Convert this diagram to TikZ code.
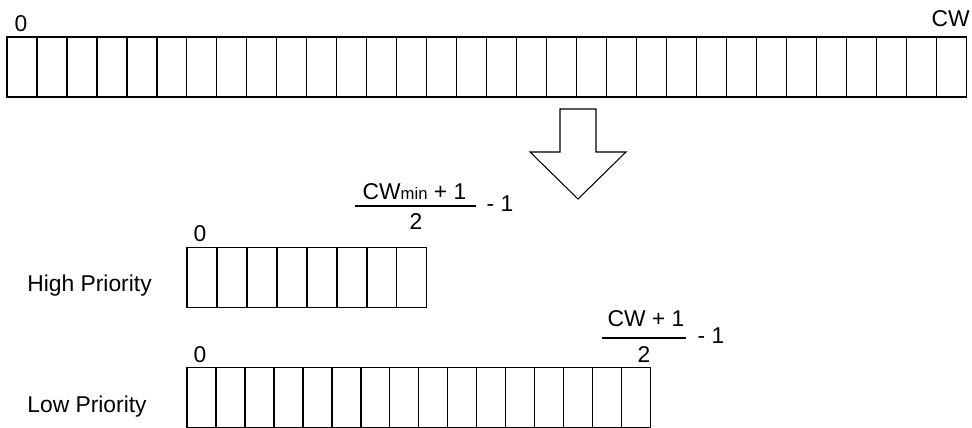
\documentclass[tikz,border=0pt]{standalone}
\usepackage{fontspec}
\setmainfont{Liberation Sans}
\usetikzlibrary{positioning}

\begin{document}
\begin{tikzpicture}[x = 0.02cm, y = -0.02cm, node distance = 0.6cm, on grid,
	slot/.style = {draw, semithick, rectangle, inner sep = 0pt, outer sep = 0pt, minimum width = 0.6cm, minimum height = 1.2cm},
	lbl/.style = {inner sep = 0pt, font = \fontsize{13}{15}\selectfont}]
	\useasboundingbox (0,0) rectangle (972,428);
	% full window
	\node[slot] (t0) at (22,67) {};
	\foreach \i [remember = \i as \j (initially 0)] in {1,...,31}
		\node[slot] (t\i) [right = of t\j] {};
	\node[lbl, anchor = base] (t0lbl) at (21,32) {0};
	\node[lbl, anchor = base east] (cwlbl) at (970,27) {CW};
	% split arrow
	\draw[semithick, line join = miter] (560,109) -- (596,109) -- (596,152) -- (626,152) -- (578,199) -- (530,152) -- (560,152) -- cycle;
	% high priority part
	\node[slot] (h0) at (202,277.5) {};
	\foreach \i [remember = \i as \j (initially 0)] in {1,...,7}
		\node[slot] (h\i) [right = of h\j] {};
	\node[lbl, anchor = base] (h0lbl) at (200,242) {0};
	\node[lbl, anchor = base west] (hname) at (27,292) {High Priority};
	\node[lbl, anchor = base] (hnum) at (414.5,200) {CW{\fontsize{9.5}{11}\selectfont min} + 1};
	\node[lbl, anchor = base] (hden) at (416,230) {2};
	\node[lbl, anchor = base] (hsub) at (500,212) {- 1};
	\draw[line width = 1.1pt] (355,206) -- (476,206);
	% low priority part
	\node[slot, minimum width = 0.58cm] (l0) at (201.5,397.5) {};
	\foreach \i [remember = \i as \j (initially 0)] in {1,...,15}
		\node[slot, minimum width = 0.58cm] (l\i) [node distance = 0.58cm, right = of l\j] {};
	\node[lbl, anchor = base] (l0lbl) at (200,362) {0};
	\node[lbl, anchor = base west] (lname) at (27,412) {Low Priority};
	\node[lbl, anchor = base] (lnum) at (646,327) {CW + 1};
	\node[lbl, anchor = base] (lden) at (644,362) {2};
	\node[lbl, anchor = base] (lsub) at (711,343) {- 1};
	\draw[line width = 1.1pt] (602,338) -- (686,338);
\end{tikzpicture}
\end{document}
